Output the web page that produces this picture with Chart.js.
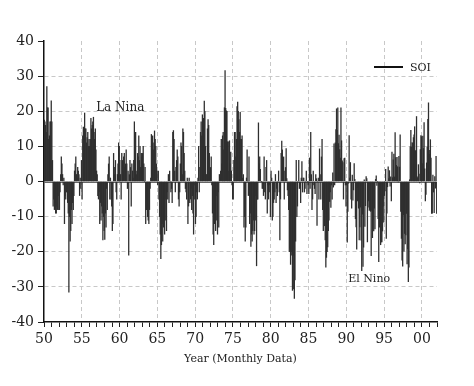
<!DOCTYPE html>
<html>
<head>
<meta charset="utf-8">
<script src="https://cdn.jsdelivr.net/npm/chart.js@4.4.0/dist/chart.umd.min.js"></script>
<style>
  html, body { margin: 0; padding: 0; background: #fff; }
  #wrap { width: 474px; height: 386px; }
</style>
</head>
<body>
<div id="wrap"><canvas id="chart" width="474" height="386"></canvas></div>
<script>
// SOI mensuel 1950-2001 (une valeur par mois).
const START_YEAR = 1950;
const END_YEAR   = 2002;

const soi1950s = [
  17.5, 17, 16, 14, 27, 21, 21, 12, 13, 17, 17, 23,
  17, 6, -7, -5, -8, -6, -9, -9, -7, -8, -4, -8,
  -8, -3, 2, 7, 5, 2, -1, 1, -12, -4, -5, -3,
  -2, -6, -9, -31.5, -10, -17, -14, -8, -12, -6, -8, -4,
  3, 5, 7, 2, 1, 4, 3, 2, -4, 1, -2, 6,
  -5, 13, 15.5, 10, 19.5, 15, 15, 11, 12.5, 14, 10, 12,
  10, 12, 18, 15, 16, 17, 18.3, 14, 12, 15, 9, 3,
  2, -4, -5, -3, -12, -6, -11, -7, -9, -16.6, -10, -14,
  -16.5, -9, -13, -2, -8, 2, 5, 7, -5, 1, -5, -7,
  -14, -12, 8, 4, 2, 6, -3, -5, 2, 5, 11, 10,
];
const soi1960s = [
  6, 2, -5, 8, 6, 3, 7, 8, 4, 5, 9, 5,
  -2, 3, -21, 2, 6, 4, -7, 5, 3, 1, 6, 17,
  9, 14, 2, 3, 8, 7, 13, 6, 10, 4, 8, 7,
  8, 10, 5, 0, 4, -12, -8, -5, -10, -11, -12, -8,
  -2, 1, 13.4, 7, 13, 9, 11, 14.4, 12, 10, 5, 3,
  -1, 3, -5, -10, -15, -22, -18, -12, -17, -13, -10, -15,
  -11, -5, -14, -3, -5, 2, -6, 3, 0, -3, -2, -6,
  14, 14.5, 12, 3, -3, 4, 6, 9, 7, -5, -7, -3,
  5, 11, 10, 2, 15, 14, 8, 3, -2, -3, -5, 1,
  -12, -7, 1, -6, -5, -2, -8, -4, -9, -15, -5, -1,
];
const soi1970s = [
  -12, -10, -3, -5, 1, 10, -3, 4, 14, 17, 13, 19,
  3, 18, 22.9, 20, 10, 2, 2, 15, 17.6, 16, 8, 3,
  4, 7, -1, -9, -15, -18, -12, -9, -14, -11, -4, -15,
  -3, -13, 2, 1, 3, 12, 5, 13, 14, 9, 21, 31.6,
  20.8, 20.1, 20, 11.3, 11.3, 3, 11.6, 5, 8.4, 3, -1, -5,
  -5, 6, 14, 14, 7, 12, 21.3, 22.6, 20, 17.6, 14, 19.7,
  12, 12, 13, 1, 2, -13, -10, -17, -13, 1, 9, 0,
  -4, 7, -12, -9, -18.5, -15, -17, -14, -11, -15, -14, -11,
  -4, -24, -5, -5, 16.7, 5, 7, 3.5, 0, 0, -2, -2,
  -4, 7, -3, -5, 4, 6, -9, -1, -5, -1, -3, -10,
];
const soi1980s = [
  3, 1, -11, -10, -6, -5, -3, 2, -6, -2, -4, 0,
  3, -3, -16.6, -5, 8, 11.5, 9, 6, 7, -5, 3, 4,
  9.4, 0.8, -2.4, -4, -8, -20, -19, -23.6, -21, -20, -31, -21,
  -30.6, -33.3, -28, -17, 6, -10, -7, 0, 6, -2, -1, -6,
  1, 5.7, -3, 1, 1, -3, -2, 0, 3, -3.5, 0, -1,
  -3.5, 6.7, -2, 14, 2, -8, -5, 3, -1, -2, -3.5, 2,
  0.8, -12.5, 0, 1, -5, 9.3, 2, -5, 7, 12, -8, -14,
  -6, -12.6, -16.6, -24.4, -21.6, -20, -18.6, -14, -11, -5.7, -3, -7.4,
  -1, -5, 2.5, -1.6, 10.7, -1, 11, 14.8, 20.7, 14.6, 21, 10.8,
  13.2, 9.1, 6.7, 21, 11.6, 5.9, 5.4, -5, 6.5, 6.7, -1, -7,
];
const soi1990s = [
  -1, -17.3, -8.5, -0.5, 13.1, 1, 5.4, -5, -7.6, 1.8, -5.3, -2.4,
  5.1, 0.6, -10.6, -12.9, -19.3, -5.5, -1.7, -7.6, -16.6, -12.9, -7.3, -16.7,
  -25.4, -9.3, -24.2, -18.7, 0.5, -12.8, -6.9, 1.4, 0.8, -17.2, -7.3, -5.5,
  -8.2, -7.9, -8.5, -21.1, -8.2, -16, -10.8, -14.1, -7.6, -13.5, 0.6, 1.6,
  -1.1, 0, -10.6, -22.8, -13, -10.4, -18, -17.2, -17.2, -14.1, -7, -11.6,
  -4, -2.7, 3.5, -16.2, -9, -1.5, 4.2, 0.8, 3.1, -1.3, 1.3, -5.5,
  8.4, 1.1, 6.2, 7.8, 1.3, 13.9, 6.8, 4.6, 6.9, 4.2, -0.1, 7.2,
  4.1, 13.3, -8.5, -16.2, -22.4, -24.1, -9.5, -19.8, -14.8, -17.8, -15.2, -9.1,
  -23.5, -19.2, -28.5, -24.4, 0.5, 9.9, 14.6, 9.8, 11.1, 10.9, 12.5, 13.3,
  15.6, 8.6, 8.9, 18.5, 1.3, 1.0, 4.8, 2.1, -0.4, 9.1, 13.1, 12.8,
];
const soi2000s = [
  5.1, 12.9, 9.4, 16.8, 3.6, -5.5, -3.7, 5.3, 9.9, 17.7, 22.4, 7.7,
  8.9, 11.9, 6.7, -9.1, -9.0, 1.8, -3.0, -8.9, 1.4, -1.9, 7.2, -9.1,
];

const SERIES_LABEL = 'SOI';
const X_TITLE      = 'Year (Monthly Data)';
const Y_MIN = -40, Y_MAX = 40, Y_STEP = 10;
const X_LABEL_EVERY = 5;

// Annotations texte (position en coordonnées données : année, valeur)
const notes = [
  { text: 'La Nina', year: 1956.9, value: 20.1, size: 12 },
  { text: 'El Nino', year: 1990.25, value: -28.6, size: 11 },
];

const FONT = '"DejaVu Serif", "Liberation Serif", serif';
const INK  = '#222';
const GRID = '#c8c8c8';

const soiMonthly = [].concat(soi1950s, soi1960s, soi1970s, soi1980s, soi1990s, soi2000s);
const points = soiMonthly.map((v, i) => ({ x: START_YEAR + (i + 0.5) / 12, y: v }));

// ─── Ligne zéro, légende, annotations, titre de l'axe X ─────────────────
const overlay = {
  id: 'overlay',
  beforeDatasetsDraw(chart) {
    const { ctx, chartArea: a, scales: { y } } = chart;
    const y0 = Math.round(y.getPixelForValue(0)) + 0.5;
    ctx.save();
    ctx.strokeStyle = '#666';
    ctx.lineWidth = 1;
    ctx.beginPath();
    ctx.moveTo(a.left, y0);
    ctx.lineTo(a.right, y0);
    ctx.stroke();
    ctx.restore();
  },
  afterDraw(chart) {
    const { ctx, chartArea: a, scales: { x, y } } = chart;
    ctx.save();
    ctx.fillStyle = INK;
    ctx.textBaseline = 'alphabetic';

    notes.forEach((n) => {
      ctx.font = `${n.size}px ${FONT}`;
      ctx.textAlign = 'left';
      ctx.fillText(n.text, x.getPixelForValue(n.year), y.getPixelForValue(n.value));
    });

    // légende
    const ly = a.top + 26;
    ctx.strokeStyle = '#111';
    ctx.lineWidth = 2;
    ctx.beginPath();
    ctx.moveTo(a.right - 63, ly);
    ctx.lineTo(a.right - 34, ly);
    ctx.stroke();
    ctx.font = `11px ${FONT}`;
    ctx.textAlign = 'left';
    ctx.textBaseline = 'middle';
    ctx.fillText(SERIES_LABEL, a.right - 27, ly + 1);

    // titre axe X
    ctx.font = `11px ${FONT}`;
    ctx.textAlign = 'center';
    ctx.textBaseline = 'alphabetic';
    ctx.fillText(X_TITLE, (a.left + a.right) / 2, a.bottom + 40);
    ctx.restore();
  },
};

new Chart(document.getElementById('chart'), {
  type: 'bar',
  data: {
    datasets: [{
      label: SERIES_LABEL,
      data: points,
      backgroundColor: '#2f2f2f',
      borderWidth: 0,
      barPercentage: 1,
      categoryPercentage: 1,
    }],
  },
  options: {
    responsive: false,
    animation: false,
    devicePixelRatio: 1,
    layout: { padding: { top: 41, right: 37, left: 0, bottom: 0 } },
    plugins: { legend: { display: false }, tooltip: { enabled: false } },
    scales: {
      x: {
        type: 'linear',
        min: START_YEAR,
        max: END_YEAR,
        offset: false,
        afterFit: (s) => { s.height = 64; },
        grid: {
          offset: false,
          color: (c) => (c.tick && c.tick.value % X_LABEL_EVERY === 0 && c.tick.value !== START_YEAR) ? GRID : 'rgba(0,0,0,0)',
          tickColor: INK,
          tickLength: 5,
          lineWidth: 1,
        },
        border: { display: true, color: '#111', width: 1.5, dash: [4, 3] },
        ticks: {
          stepSize: 1,
          maxTicksLimit: 100,
          autoSkip: false,
          maxRotation: 0,
          padding: 4,
          color: INK,
          font: { family: FONT, size: 14 },
          callback: (v) => (v % X_LABEL_EVERY === 0 ? String(v % 100).padStart(2, '0') : ''),
        },
      },
      y: {
        min: Y_MIN,
        max: Y_MAX,
        afterFit: (s) => { s.width = 44; },
        grid: {
          color: (c) => (c.tick && (c.tick.value === 0 || Math.abs(c.tick.value) === Y_MAX)) ? 'rgba(0,0,0,0)' : GRID,
          tickColor: INK,
          tickLength: 6,
          lineWidth: 1,
        },
        border: { display: true, color: '#111', width: 1.5, dash: [4, 3] },
        ticks: {
          stepSize: Y_STEP,
          padding: 4,
          color: INK,
          font: { family: FONT, size: 14 },
        },
      },
    },
  },
  plugins: [overlay],
});
</script>
</body>
</html>
